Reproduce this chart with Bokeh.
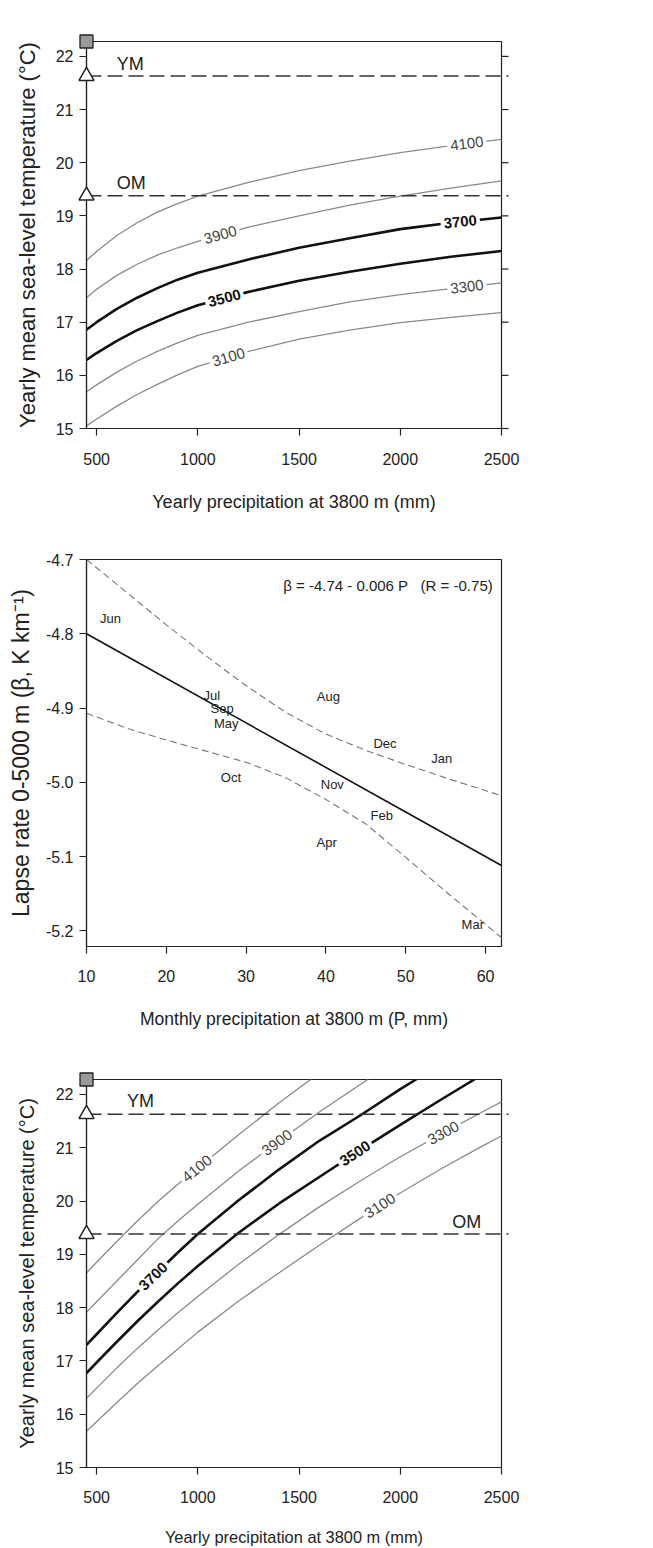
import math
import numpy as np
from bokeh.plotting import figure
from bokeh.layouts import column
from bokeh.models import Range1d, FixedTicker, Label, PrintfTickFormatter
from bokeh.core.properties import value
from bokeh.embed import file_html
from bokeh.resources import INLINE

FONT = "Liberation Sans"
INK = "#222222"
THIN = "#8a8a8a"

# ---------------- data ----------------
ym_temp = 21.63
om_temp = 19.38
square_temp = 22.28
marker_precip = 450

t_ticks = [15, 16, 17, 18, 19, 20, 21, 22]
p_ticks = [500, 1000, 1500, 2000, 2500]

# panel (a)
a_precip = [450, 500, 600, 700, 800, 900, 1000, 1250, 1500, 1750, 2000, 2250, 2500]
a_ela_3100 = [15.05, 15.18, 15.42, 15.64, 15.83, 16.01, 16.17, 16.45, 16.68, 16.85, 16.99, 17.09, 17.18]
a_ela_3300 = [15.69, 15.82, 16.06, 16.27, 16.45, 16.61, 16.75, 17.00, 17.20, 17.38, 17.52, 17.63, 17.74]
a_ela_3500 = [16.29, 16.42, 16.65, 16.85, 17.02, 17.18, 17.32, 17.57, 17.78, 17.95, 18.10, 18.23, 18.34]
a_ela_3700 = [16.86, 17.00, 17.25, 17.46, 17.64, 17.80, 17.93, 18.18, 18.40, 18.58, 18.75, 18.87, 18.97]
a_ela_3900 = [17.46, 17.62, 17.88, 18.09, 18.26, 18.40, 18.52, 18.79, 19.00, 19.20, 19.37, 19.52, 19.66]
a_ela_4100 = [18.16, 18.33, 18.63, 18.87, 19.07, 19.23, 19.37, 19.63, 19.85, 20.03, 20.19, 20.32, 20.44]
a_levels = [3100, 3300, 3500, 3700, 3900, 4100]
a_label_precip = [1152, 2329, 1131, 2296, 1111, 2329]

# panel (b)
b_months = ["Jun", "Jul", "Sep", "May", "Aug", "Dec", "Jan", "Oct", "Nov", "Feb", "Apr", "Mar"]
b_precip = [13.0, 25.7, 27.0, 27.5, 40.3, 47.4, 54.5, 28.1, 40.8, 47.0, 40.1, 58.4]
b_lapse = [-4.780, -4.883, -4.900, -4.921, -4.885, -4.948, -4.968, -4.994, -5.003, -5.044, -5.081, -5.191]
b_fit_precip = [10, 62]
b_fit_lapse = [-4.800, -5.112]
b_band_precip = [10, 15, 20, 25, 30, 35, 40, 45, 50, 55, 62]
b_band_upper = [-4.700, -4.744, -4.788, -4.830, -4.870, -4.906, -4.935, -4.957, -4.976, -4.994, -5.018]
b_band_lower = [-4.907, -4.927, -4.943, -4.958, -4.973, -4.994, -5.023, -5.056, -5.101, -5.147, -5.209]
b_xticks = [10, 20, 30, 40, 50, 60]
b_yticks = [-5.2, -5.1, -5.0, -4.9, -4.8, -4.7]
b_formula = "\u03b2 = -4.74 - 0.006 P\u00a0\u00a0\u00a0(R = -0.75)"

# panel (c)
c_ela_3100_precip = [450, 500, 600, 700, 800, 900, 1000, 1200, 1400, 1600, 1800, 2000, 2200, 2400, 2500]
c_ela_3100 = [15.68, 15.86, 16.22, 16.57, 16.90, 17.22, 17.54, 18.12, 18.65, 19.17, 19.67, 20.15, 20.60, 21.02, 21.22]
c_ela_3300_precip = [450, 500, 600, 700, 800, 900, 1000, 1200, 1400, 1600, 1800, 2000, 2200, 2400, 2500]
c_ela_3300 = [16.30, 16.49, 16.87, 17.23, 17.57, 17.90, 18.21, 18.81, 19.37, 19.89, 20.37, 20.83, 21.25, 21.66, 21.86]
c_ela_3500_precip = [450, 500, 600, 700, 800, 900, 1000, 1200, 1400, 1600, 1800, 2000, 2200, 2370]
c_ela_3500 = [16.77, 16.97, 17.36, 17.74, 18.10, 18.45, 18.78, 19.40, 19.95, 20.45, 20.95, 21.43, 21.90, 22.29]
c_ela_3700_precip = [450, 500, 600, 700, 800, 900, 1000, 1200, 1400, 1600, 1800, 2000, 2082]
c_ela_3700 = [17.30, 17.50, 17.90, 18.29, 18.66, 19.03, 19.38, 20.01, 20.59, 21.13, 21.60, 22.10, 22.29]
c_ela_3900_precip = [450, 500, 600, 700, 800, 900, 1000, 1200, 1400, 1600, 1843]
c_ela_3900 = [17.91, 18.11, 18.50, 18.89, 19.28, 19.62, 19.94, 20.56, 21.12, 21.67, 22.29]
c_ela_4100_precip = [450, 500, 600, 700, 800, 900, 1000, 1200, 1400, 1560]
c_ela_4100 = [18.65, 18.85, 19.24, 19.62, 19.98, 20.31, 20.62, 21.24, 21.84, 22.29]
c_levels = [3100, 3300, 3500, 3700, 3900, 4100]
c_label_precip = [1900, 2213, 1777, 780, 1391, 996]

bold_levels = [3500, 3700]

FW = 415
FH = 387
LEFT = 86


def style_axis(ax, ticks, label, title_px, label_standoff, title_standoff):
    ax.ticker = FixedTicker(ticks=ticks)
    ax.axis_label = label
    ax.axis_label_text_font = FONT
    ax.axis_label_text_font_size = f"{title_px}px"
    ax.axis_label_text_font_style = "normal"
    ax.axis_label_text_color = INK
    ax.major_label_text_font = FONT
    ax.major_label_text_font_size = "16px"
    ax.major_label_text_color = INK
    ax.major_tick_out = 7
    ax.major_tick_in = 0
    ax.minor_tick_line_color = None
    ax.axis_line_color = INK
    ax.major_tick_line_color = INK
    ax.axis_line_width = 1.2
    ax.major_tick_line_width = 1.2
    ax.major_label_standoff = label_standoff
    ax.axis_label_standoff = title_standoff


def make_fig(xr, yr, fh, top, bottom):
    p = figure(frame_width=FW, frame_height=fh, x_range=xr, y_range=yr,
               min_border_left=LEFT, min_border_right=22, min_border_top=top,
               min_border_bottom=bottom, output_backend="svg", toolbar_location=None)
    p.xgrid.visible = False
    p.ygrid.visible = False
    p.outline_line_color = INK
    p.outline_line_width = 1.2
    p.background_fill_color = "white"
    p.border_fill_color = "white"
    return p


def panel_letter(p, text, fh, dy):
    p.add_layout(Label(x=-LEFT + 8, y=fh + dy, x_units="screen", y_units="screen", text=text,
                       text_font=FONT, text_font_size="19px", text_color=INK,
                       text_baseline="middle", text_align="left"))


def label_angle(xs, ys, x0, xr, yr, fh):
    d = 40.0
    y1 = float(np.interp(x0 - d, xs, ys))
    y2 = float(np.interp(x0 + d, xs, ys))
    sx = 2 * d * FW / (xr.end - xr.start)
    sy = (y2 - y1) * fh / (yr.end - yr.start)
    return math.atan2(sy, sx)


def draw_contours(p, xs_list, ys_list, levels, label_xs, xr, yr, fh):
    for xs, ys, lev, lx in zip(xs_list, ys_list, levels, label_xs):
        bold = lev in bold_levels
        p.line(xs, ys, line_color="#111111" if bold else THIN, line_width=2.6 if bold else 1.3,
               line_join="round")
        ly = float(np.interp(lx, xs, ys))
        ang = label_angle(xs, ys, lx, xr, yr, fh)
        p.add_layout(Label(x=lx, y=ly, text=str(lev), angle=ang, angle_units="rad",
                           text_align="center", text_baseline="middle", text_font=FONT,
                           text_font_size="15px", text_font_style="bold" if bold else "normal",
                           text_color="#111111" if bold else "#444444",
                           background_fill_color="white", padding=3))


def reference_marks(p, xr):
    over = 7 * (xr.end - xr.start) / FW
    for t in [ym_temp, om_temp]:
        p.line([xr.start, xr.end + over], [t, t], line_color="#333333", line_width=1.5,
               line_dash="15 6", level="overlay")
    p.scatter([marker_precip, marker_precip], [ym_temp, om_temp], marker="triangle", size=15,
              fill_color="white", line_color=INK, line_width=1.5, level="overlay")
    p.scatter([marker_precip], [square_temp], marker="square", size=13, fill_color="#9a9a9a",
              line_color=INK, line_width=1.3, level="overlay")


# ---------------- panel (a) ----------------
xa = Range1d(450, 2500)
ya = Range1d(15, 22.28)
pa = make_fig(xa, ya, FH, 41, 87)
style_axis(pa.xaxis[0], p_ticks, "Yearly precipitation at 3800 m (mm)", 18, 17, 24)
style_axis(pa.yaxis[0], t_ticks, "Yearly mean sea-level temperature (\u00b0C)", 22, 6, 13)
# outward tick marks on the right-hand frame edge
over_a = 7 * (xa.end - xa.start) / FW
pa.segment(x0=[xa.end] * len(t_ticks), y0=t_ticks, x1=[xa.end + over_a] * len(t_ticks), y1=t_ticks,
           line_color=INK, line_width=1.2, level="overlay")
draw_contours(pa, [a_precip] * 6,
              [a_ela_3100, a_ela_3300, a_ela_3500, a_ela_3700, a_ela_3900, a_ela_4100],
              a_levels, a_label_precip, xa, ya, FH)
reference_marks(pa, xa)
pa.add_layout(Label(x=600, y=ym_temp + 0.22, text="YM", text_font=FONT, text_font_size="18px",
                    text_color=INK, text_baseline="middle"))
pa.add_layout(Label(x=600, y=om_temp + 0.24, text="OM", text_font=FONT, text_font_size="18px",
                    text_color=INK, text_baseline="middle"))
panel_letter(pa, "(a)", FH, 20)

# ---------------- panel (b) ----------------
xb = Range1d(10, 62)
yb = Range1d(-5.221, -4.70)
pb = make_fig(xb, yb, FH, 44, 84)
style_axis(pb.xaxis[0], b_xticks, "Monthly precipitation at 3800 m (P, mm)", 17.5, 16, 24)
style_axis(pb.yaxis[0], b_yticks, "Lapse rate 0-5000 m (\u03b2, K km\u207b\u00b9)", 23, 6, 9)
pb.yaxis[0].formatter = PrintfTickFormatter(format="%.1f")
pb.line(b_band_precip, b_band_upper, line_color="#777777", line_width=1.1, line_dash="7 4")
pb.line(b_band_precip, b_band_lower, line_color="#777777", line_width=1.1, line_dash="7 4")
pb.line(b_fit_precip, b_fit_lapse, line_color="#111111", line_width=1.6)
pb.text(x=b_precip, y=b_lapse, text=b_months, text_font=value(FONT), text_font_size="13px",
        text_color="#222222", text_align="center", text_baseline="middle")
pb.add_layout(Label(x=60.9, y=-4.735, text=b_formula, text_font=FONT, text_font_size="15px",
                    text_color=INK, text_align="right", text_baseline="middle"))
panel_letter(pb, "(b)", FH, 24)

# ---------------- panel (c) ----------------
FHC = 388
xc = Range1d(450, 2500)
yc = Range1d(15, 22.28)
pc = make_fig(xc, yc, FHC, 48, 80)
style_axis(pc.xaxis[0], p_ticks, "Yearly precipitation at 3800 m (mm)", 16.4, 16, 22)
style_axis(pc.yaxis[0], t_ticks, "Yearly mean sea-level temperature (\u00b0C)", 20, 6, 15)
draw_contours(pc,
              [c_ela_3100_precip, c_ela_3300_precip, c_ela_3500_precip,
               c_ela_3700_precip, c_ela_3900_precip, c_ela_4100_precip],
              [c_ela_3100, c_ela_3300, c_ela_3500, c_ela_3700, c_ela_3900, c_ela_4100],
              c_levels, c_label_precip, xc, yc, FHC)
reference_marks(pc, xc)
pc.add_layout(Label(x=650, y=ym_temp + 0.24, text="YM", text_font=FONT, text_font_size="18px",
                    text_color=INK, text_baseline="middle"))
pc.add_layout(Label(x=2400, y=om_temp + 0.22, text="OM", text_font=FONT, text_font_size="18px",
                    text_color=INK, text_baseline="middle", text_align="right"))
panel_letter(pc, "(c)", FHC, 25)

layout = column(pa, pb, pc)
open("out.html", "w").write(file_html(layout, INLINE))
